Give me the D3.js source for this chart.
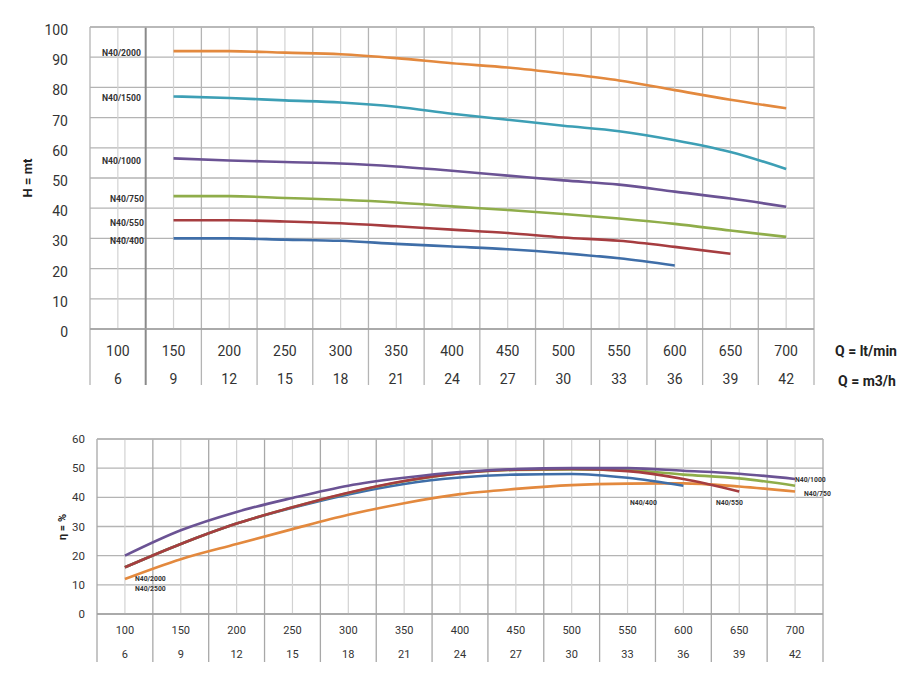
<!DOCTYPE html>
<html>
<head>
<meta charset="utf-8">
<script src="https://cdn.jsdelivr.net/npm/d3@7"></script>
<style>
  body { margin: 0; background: #fff; }
  svg { display: block; font-family: Roboto, "Open Sans", sans-serif; }
</style>
</head>
<body>
<div id="chart"></div>
<script>
// Flow values (lt/min) and matching m3/h labels
const flowLtMin = [100, 150, 200, 250, 300, 350, 400, 450, 500, 550, 600, 650, 700];
const flowM3h = [6, 9, 12, 15, 18, 21, 24, 27, 30, 33, 36, 39, 42];
const headTicks = [0, 10, 20, 30, 40, 50, 60, 70, 80, 90, 100];
const effTicks = [0, 10, 20, 30, 40, 50, 60];

// Head curves (H = mt), starting at 150 lt/min
const curveQ = [150, 200, 250, 300, 350, 400, 450, 500, 550, 600, 650, 700];
const head2000 = [92, 92, 91.5, 91, 89.7, 88, 86.6, 84.6, 82.3, 79.1, 75.9, 73.1];
const head1500 = [77, 76.5, 75.7, 75, 73.6, 71.3, 69.3, 67.3, 65.5, 62.5, 58.6, 53];
const head1000 = [56.5, 55.8, 55.3, 54.8, 53.8, 52.4, 50.8, 49.2, 47.8, 45.5, 43.2, 40.5];
const head750 = [44, 44, 43.4, 42.8, 41.9, 40.6, 39.4, 38.1, 36.6, 34.8, 32.6, 30.5];
const head550 = [36, 36, 35.6, 35, 34, 32.9, 31.8, 30.3, 29.2, 27.2, 24.9];
const head400 = [30, 30, 29.6, 29.2, 28.2, 27.3, 26.4, 25.1, 23.4, 21];

// Efficiency curves (eta = %), starting at 100 lt/min
const eff1000 = [20, 28.7, 35, 39.8, 44, 46.7, 48.7, 49.7, 50, 50, 49.1, 48.1, 46.3];
const eff750 = [16, 24, 31, 36.6, 41.5, 45.5, 48.3, 49.4, 49.6, 49.3, 47.8, 46.5, 44];
const eff550 = [16, 24, 31, 36.6, 41.6, 45.6, 48.3, 49.5, 49.7, 49, 46.3, 42];
const eff400 = [16, 24, 31, 36.4, 41, 44.6, 46.8, 47.8, 48, 46.7, 44];
const eff2000 = [12, 18.8, 24, 29.1, 34, 38, 41.1, 42.9, 44.2, 44.7, 44.8, 43.7, 42];

const colors = {
  orange: '#e3893e', teal: '#3d9fb5', purple: '#6b5394',
  green: '#8fad4a', red: '#a63d40', blue: '#3f6ea8'
};

const headSeries = [
  { name: 'N40/2000', values: head2000, color: colors.orange, lx: 102, ly: 56 },
  { name: 'N40/1500', values: head1500, color: colors.teal, lx: 102, ly: 101 },
  { name: 'N40/1000', values: head1000, color: colors.purple, lx: 102, ly: 164 },
  { name: 'N40/750', values: head750, color: colors.green, lx: 110, ly: 202 },
  { name: 'N40/550', values: head550, color: colors.red, lx: 110, ly: 226 },
  { name: 'N40/400', values: head400, color: colors.blue, lx: 110, ly: 244 }
];

const effSeries = [
  { values: eff2000, color: colors.orange },
  { values: eff400, color: colors.blue },
  { values: eff750, color: colors.green },
  { values: eff550, color: colors.red },
  { values: eff1000, color: colors.purple }
];

const effLabels = [
  { text: 'N40/2000', x: 135, y: 581 },
  { text: 'N40/2500', x: 135, y: 591 },
  { text: 'N40/400', x: 630, y: 505 },
  { text: 'N40/550', x: 716, y: 505 },
  { text: 'N40/1000', x: 795, y: 482 },
  { text: 'N40/750', x: 804, y: 496 }
];

const width = 914, height = 678;
const svg = d3.select('#chart').append('svg')
  .attr('width', width).attr('height', height);

const lineGen = (x, y) => d3.line()
  .x(d => x(d[0])).y(d => y(d[1]))
  .curve(d3.curveMonotoneX);

function drawPanel(opts) {
  const { x, y, ticks, rowY, tableBottom, fontSize, minorColor, majorColor } = opts;
  const g = svg.append('g');
  const [x0, x1] = x.range();
  const [y0, y1] = y.range();

  // Horizontal gridlines
  g.selectAll('.hgrid').data(ticks).enter().append('line')
    .attr('x1', x0).attr('x2', x1)
    .attr('y1', d => y(d)).attr('y2', d => y(d))
    .attr('stroke', '#b4b4b4').attr('stroke-width', 1.3);

  // Minor verticals at the flow values
  g.selectAll('.vminor').data(flowLtMin).enter().append('line')
    .attr('x1', d => x(d)).attr('x2', d => x(d))
    .attr('y1', y1).attr('y2', y0)
    .attr('stroke', minorColor).attr('stroke-width', 1.2);

  // Major verticals between columns, extended into the table
  const majors = d3.range(75, 726, 50);
  g.selectAll('.vmajor').data(majors).enter().append('line')
    .attr('x1', d => x(d)).attr('x2', d => x(d))
    .attr('y1', y1).attr('y2', tableBottom)
    .attr('stroke', (d, i) => (opts.darkIndex === i ? '#8a8a8a' : majorColor))
    .attr('stroke-width', (d, i) => (opts.darkIndex === i ? 2 : 1.3));

  // Frame top and bottom
  g.append('line').attr('x1', x0).attr('x2', x1).attr('y1', y1).attr('y2', y1)
    .attr('stroke', '#b4b4b4').attr('stroke-width', 1.3);
  g.append('line').attr('x1', x0).attr('x2', x1).attr('y1', y0).attr('y2', y0)
    .attr('stroke', '#a0a0a0').attr('stroke-width', 1.5);

  // Y tick labels
  g.selectAll('.ytick').data(ticks).enter().append('text')
    .attr('x', opts.yLabelX).attr('y', d => y(d) + opts.yLabelShift)
    .attr('dy', '0.35em').attr('text-anchor', 'end')
    .attr('font-size', opts.yFont).attr('fill', '#333')
    .text(d => d);

  // Table rows
  g.selectAll('.row1').data(flowLtMin).enter().append('text')
    .attr('x', d => x(d)).attr('y', rowY[0]).attr('dy', '0.35em')
    .attr('text-anchor', 'middle').attr('font-size', fontSize).attr('fill', '#333')
    .text(d => d);
  g.selectAll('.row2').data(flowM3h).enter().append('text')
    .attr('x', (d, i) => x(flowLtMin[i])).attr('y', rowY[1]).attr('dy', '0.35em')
    .attr('text-anchor', 'middle').attr('font-size', fontSize).attr('fill', '#333')
    .text(d => d);

  return g;
}

// ---------- Head chart ----------
const xH = d3.scaleLinear().domain([75, 725]).range([90, 814]);
const yH = d3.scaleLinear().domain([0, 100]).range([329, 27]);

drawPanel({
  x: xH, y: yH, ticks: headTicks, rowY: [351, 379], tableBottom: 385,
  fontSize: 14, yFont: 14, yLabelX: 68, yLabelShift: 3,
  minorColor: '#d2d2d2', majorColor: '#b4b4b4', darkIndex: 1
});

const headG = svg.append('g');
headSeries.forEach(s => {
  headG.append('path')
    .datum(s.values.map((v, i) => [curveQ[i], v]))
    .attr('d', lineGen(xH, yH))
    .attr('fill', 'none').attr('stroke', s.color)
    .attr('stroke-width', 2.6).attr('stroke-linecap', 'butt');
  headG.append('text')
    .attr('x', s.lx).attr('y', s.ly)
    .attr('font-size', 8.6).attr('font-weight', 'bold').attr('fill', '#333')
    .text(s.name);
});

svg.append('text')
  .attr('transform', 'translate(32,178) rotate(-90)')
  .attr('text-anchor', 'middle').attr('font-size', 13).attr('font-weight', 'bold')
  .attr('fill', '#222').text('H = mt');

svg.append('text').attr('x', 835).attr('y', 351).attr('dy', '0.35em')
  .attr('font-size', 14).attr('font-weight', 'bold').attr('fill', '#222')
  .text('Q = lt/min');
svg.append('text').attr('x', 838).attr('y', 381).attr('dy', '0.35em')
  .attr('font-size', 14).attr('font-weight', 'bold').attr('fill', '#222')
  .text('Q = m3/h');

// ---------- Efficiency chart ----------
const xE = d3.scaleLinear().domain([75, 725]).range([97, 823]);
const yE = d3.scaleLinear().domain([0, 60]).range([614, 439]);

drawPanel({
  x: xE, y: yE, ticks: effTicks, rowY: [630, 654], tableBottom: 662,
  fontSize: 11, yFont: 11.5, yLabelX: 85, yLabelShift: 0,
  minorColor: '#d2d2d2', majorColor: '#a8a8a8', darkIndex: -1
});

const effG = svg.append('g');
effSeries.forEach(s => {
  effG.append('path')
    .datum(s.values.map((v, i) => [flowLtMin[i], v]))
    .attr('d', lineGen(xE, yE))
    .attr('fill', 'none').attr('stroke', s.color)
    .attr('stroke-width', 2.6);
});

effG.selectAll('.elabel').data(effLabels).enter().append('text')
  .attr('x', d => d.x).attr('y', d => d.y)
  .attr('font-size', 6.8).attr('font-weight', 'bold').attr('fill', '#333')
  .text(d => d.text);

svg.append('text')
  .attr('transform', 'translate(66,527) rotate(-90)')
  .attr('text-anchor', 'middle').attr('font-size', 11).attr('font-weight', 'bold')
  .attr('fill', '#222').text('η = %');
</script>
</body>
</html>
